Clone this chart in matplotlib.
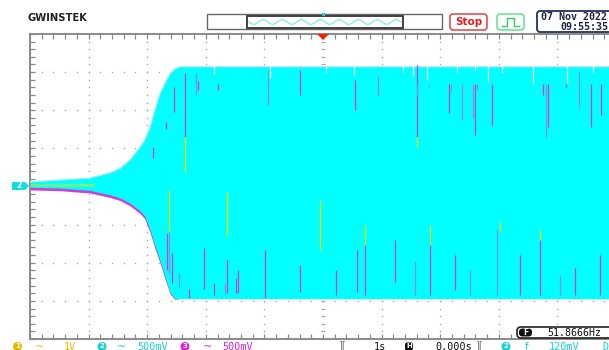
import numpy as np
import matplotlib
matplotlib.use("Agg")
import matplotlib.pyplot as plt
from matplotlib.patches import Rectangle, FancyBboxPatch, Polygon, Circle

# ---- channel 2 envelope (time in s, volts) ----
env_t = [-5.0, -4.49, -3.98, -3.63, -3.46, -3.29, -3.12, -3.04, -2.95,
         -2.87, -2.78, -2.70, -2.61, -2.53, -2.44, 5.0]
env_hi = [0.06, 0.085, 0.11, 0.18, 0.24, 0.35, 0.52, 0.61, 0.78,
          1.00, 1.22, 1.35, 1.48, 1.54, 1.57, 1.57]
env_lo = [-0.01, -0.02, -0.05, -0.11, -0.15, -0.22, -0.32, -0.39, -0.57,
          -0.77, -0.97, -1.17, -1.39, -1.47, -1.47, -1.47]
# channel 3 sits a little below channel 2 during the ramp
ch3_lo_extra = [-0.035, -0.035, -0.035, -0.035, -0.035, -0.035, -0.035, -0.035,
                -0.035, -0.035, -0.035, -0.03, -0.02, -0.01, 0.0, 0.0]
# channel 1 small band around the centre at the start
ch1_t = [-5.0, -4.5, -4.0, -3.9]
ch1_hi = [0.035, 0.035, 0.04, 0.04]
ch1_lo = [0.005, 0.005, 0.005, 0.005]

# dropouts where channel 3 / channel 1 / background show through
# (t, v_top, v_bottom, colour key)
streak_t = [-2.35, -2.35, -2.55, -2.68, -2.16, -2.13, -1.80, -2.90,
            1.60, 1.60, 1.61, 1.81, 2.15, 2.18, 2.37, 2.56, 2.59, 2.59, 2.62, 2.89,
            3.76, 3.81, 3.84, 4.14, 4.37, 4.57, 4.74,
            -2.63, -2.63, -2.66, -2.58, -2.46, -2.29, -2.03, -1.86, -1.67, -1.63,
            -1.63, -1.49, -1.45,
            -0.99, -0.39, -0.05, 0.22, 0.58, 0.72, 0.72, 1.23, 1.57, 1.83, 1.83,
            2.25, 2.51, 2.97, 3.02, 3.36, 3.70, 3.70, 4.04, 4.30, 4.73,
            -0.94, -0.39, 0.55, 0.94,
            1.37, 1.54, 1.77, 2.29, 2.59, 2.81, 3.05, 3.58, 4.16, 4.61,
            -1.86, -0.90, 0.05, 0.53]
streak_top = [1.49, 0.65, 1.30, 0.85, 1.49, 1.39, 1.35, 0.52,
              1.59, 0.65, 1.35, 1.35, 1.35, 1.35, 1.35, 1.35, 1.35, 0.62, 1.35, 1.35,
              1.35, 1.35, 1.35, 1.35, 1.52, 1.35, 1.35,
              -0.05, -0.60, -0.61, -0.87, -1.13, -1.34, -0.81, -1.27, -1.27, -0.97,
              -0.07, -1.20, -1.09,
              -0.83, -1.03, -0.18, -1.10, -0.83, -0.51, -0.77, -0.70, -0.99, -0.51, -0.77,
              -0.90, -1.10, -0.57, -0.47, -0.90, -0.57, -0.70, -1.16, -1.07, -0.90,
              1.53, 1.53, 1.40, 1.46,
              1.60, 1.60, 1.60, 1.60, 1.60, 1.60, 1.60, 1.60, 1.60, 1.60,
              1.60, 1.60, 1.60, 1.60]
streak_bot = [0.65, 0.19, 0.98, 0.76, 1.20, 1.26, 1.26, 0.37,
              0.65, 0.52, 1.20, 1.30, 0.96, 1.24, 0.87, 0.90, 0.68, 0.62, 1.26, 0.81,
              1.20, 0.65, 0.78, 1.30, 1.04, 0.78, 0.94,
              -0.60, -1.14, -1.09, -1.27, -1.32, -1.46, -1.34, -1.42, -1.41, -1.40,
              -0.66, -1.40, -1.40,
              -1.46, -1.38, -0.83, -1.42, -1.38, -0.77, -1.42, -1.25, -1.42, -0.77, -1.42,
              -1.36, -1.42, -1.42, -0.60, -1.42, -0.70, -1.42, -1.42, -1.42, -1.42,
              1.07, 1.20, 1.00, 1.20,
              1.50, 1.45, 1.40, 1.50, 1.52, 1.37, 1.49, 1.36, 1.36, 1.50,
              1.48, 1.42, 1.50, 1.45]
streak_kind = ["m", "y", "m", "m", "l", "m", "m", "m",
               "m", "y", "l", "l", "m", "l", "l", "l", "m", "y", "l", "m",
               "m", "l", "m", "m", "l", "m", "m",
               "y", "l", "m", "m", "l", "m", "m", "m", "l", "m", "y", "m", "m",
               "m", "m", "y", "m", "m", "y", "m", "m", "l", "y", "m",
               "m", "l", "l", "y", "m", "y", "m", "l", "m", "m",
               "l", "m", "m", "l",
               "w", "w", "w", "w", "w", "w", "w", "w", "w", "w",
               "w", "w", "w", "w"]

CYAN = "#00ffff"
MAG = "#d23cd2"
YEL = "#e6e600"
LAV = "#8c8ce6"
GRID = "#a8a8a8"
BORDER = "#8a8a8a"
kind_col = {"m": MAG, "y": YEL, "l": LAV, "w": "#e8fdfd"}

fig = plt.figure(figsize=(6.09, 3.50), dpi=100)
fig.patch.set_facecolor("white")

# ---- scope graticule: 10 x 8 divisions, 1 s/div, 500 mV/div ----
ax = fig.add_axes([30 / 609, 11 / 350, 586 / 609, 305 / 350])
ax.set_xlim(-5, 5)
ax.set_ylim(-2, 2)
ax.set_xticks([])
ax.set_yticks([])
for side in ("left", "top", "bottom"):
    ax.spines[side].set_color(BORDER)
    ax.spines[side].set_linewidth(1.4)
ax.spines["right"].set_visible(False)

sub_x = np.arange(-5, 5.001, 0.2)
sub_y = np.arange(-2, 2.001, 0.1)
for gx in range(-4, 5):
    if gx == 0:
        continue
    ax.plot(np.full_like(sub_y, gx), sub_y, ls="none", marker="s", ms=1.0,
            mfc=GRID, mec="none", zorder=1)
for gy in np.arange(-1.5, 1.51, 0.5):
    if abs(gy) < 1e-9:
        continue
    ax.plot(sub_x, np.full_like(sub_x, gy), ls="none", marker="s", ms=1.0,
            mfc=GRID, mec="none", zorder=1)
# centre cross with short ticks
ax.plot(sub_x, np.zeros_like(sub_x), ls="none", marker="|", ms=3.5, mew=0.9,
        color=GRID, zorder=1)
ax.plot(np.zeros_like(sub_y), sub_y, ls="none", marker="_", ms=3.5, mew=0.9,
        color=GRID, zorder=1)
# border ticks pointing into the screen
ax.plot(sub_x, np.full_like(sub_x, 2.0), ls="none", marker=3, ms=3.5, mew=0.9,
        color=BORDER, zorder=1, clip_on=False)
ax.plot(sub_x, np.full_like(sub_x, -2.0), ls="none", marker=2, ms=3.5, mew=0.9,
        color=BORDER, zorder=1, clip_on=False)
ax.plot(np.full_like(sub_y, -5.0), sub_y, ls="none", marker=1, ms=3.5, mew=0.9,
        color=BORDER, zorder=1, clip_on=False)

# ---- traces ----
ch3_lo = [a + b for a, b in zip(env_lo, ch3_lo_extra)]
ax.fill_between(env_t, env_hi, ch3_lo, color=MAG, lw=0, zorder=2)
ax.fill_between(env_t, env_hi, env_lo, color=CYAN, lw=0, zorder=3)
ax.fill_between(ch1_t, ch1_hi, ch1_lo, color=YEL, lw=0, alpha=0.55, zorder=3.5)
ax.plot(env_t, env_hi, color="#8ff3f3", lw=1.0, zorder=3.2)
for t, a, b, k in zip(streak_t, streak_top, streak_bot, streak_kind):
    ax.plot([t, t], [b, a], color=kind_col[k], lw=0.9, solid_capstyle="butt",
            zorder=4)

# ---- screen furniture (pixel overlay) ----
ov = fig.add_axes([0, 0, 1, 1])
ov.set_xlim(0, 609)
ov.set_ylim(350, 0)
ov.axis("off")
ov.patch.set_alpha(0)

ov.text(28, 18, "GWINSTEK", fontsize=7.2, fontweight="bold", color="#222222",
        va="center", ha="left", family="DejaVu Sans")

# memory bar
ov.add_patch(Rectangle((207, 14), 235, 15, fc="white", ec="#666666", lw=1.0))
ov.add_patch(Rectangle((247, 16), 156, 12, fc="white", ec="#333333", lw=1.3))
wx = np.linspace(249, 401, 300)
ov.plot(wx, 22 + 2.3 * np.sin((wx - 249) / 152 * 2 * np.pi * 8), color="#8ee8ee",
        lw=1.0)
ov.add_patch(Rectangle((322, 13), 3, 3, fc="#19d0d0", ec="none"))

# trigger marker
ov.add_patch(Polygon([[317, 34], [329, 34], [323, 40]], closed=True, fc="#ee2200",
                     ec="none"))

# Stop badge
ov.add_patch(FancyBboxPatch((450, 14), 37, 16, boxstyle="round,pad=0,rounding_size=3",
                            fc="white", ec="#e03030", lw=1.0))
ov.text(468.5, 22, "Stop", fontsize=7.5, fontweight="bold", color="#e02020",
        ha="center", va="center")
# trigger edge badge
ov.add_patch(FancyBboxPatch((497, 14), 27, 16, boxstyle="round,pad=0,rounding_size=3",
                            fc="white", ec="#55dd88", lw=1.0))
ov.plot([502, 507, 507, 514, 514, 519], [26, 26, 18, 18, 26, 26], color="#33cc66",
        lw=1.0)
# date box
ov.add_patch(FancyBboxPatch((537, 11), 80, 21, boxstyle="round,pad=0,rounding_size=3",
                            fc="white", ec="#223355", lw=1.3))
ov.text(541, 16.5, "07 Nov 2022", fontsize=7.2, fontweight="bold", color="#222244",
        family="DejaVu Sans Mono", ha="left", va="center")
ov.text(560, 27, "09:55:35", fontsize=7.2, fontweight="bold", color="#222244",
        family="DejaVu Sans Mono", ha="left", va="center")

# channel 2 ground marker
ov.add_patch(Polygon([[12, 182], [25, 182], [29, 186], [25, 190], [12, 190]], closed=True,
                     fc="#10dede", ec="none"))
ov.text(19, 186, "2", fontsize=5.5, fontweight="bold", color="white", ha="center",
        va="center")

# frequency readout
ov.add_patch(FancyBboxPatch((517, 327), 100, 11, boxstyle="round,pad=0,rounding_size=4",
                            fc="white", ec="#222222", lw=1.2))
ov.add_patch(FancyBboxPatch((519, 328.5), 13, 8, boxstyle="round,pad=0,rounding_size=3.5",
                            fc="#111111", ec="none"))
ov.text(525.5, 332.5, "F", fontsize=5.5, fontweight="bold", color="white",
        ha="center", va="center")
ov.text(547, 332.5, "51.8666Hz", fontsize=7.2, color="#111111",
        family="DejaVu Sans Mono", ha="left", va="center")

# bottom status line
sy = 346.5
MONO = dict(fontsize=7.3, family="DejaVu Sans Mono", ha="left", va="center")


def badge(x, col, label):
    ov.add_patch(Circle((x, sy), 4.5, fc=col, ec="none"))
    ov.text(x, sy, label, fontsize=5, fontweight="bold", color="white",
            ha="center", va="center")


badge(17.5, "#e6b800", "1")
ov.text(39, sy, "~", fontsize=8, color="#e6b800", ha="center", va="center")
ov.text(64, sy, "1V", color="#e6b800", **MONO)
badge(102, "#19d0d0", "2")
ov.text(122, sy, "~", fontsize=8, color="#19d0d0", ha="center", va="center")
ov.text(137, sy, "500mV", color="#19d0d0", **MONO)
badge(185, "#dd22dd", "3")
ov.text(208, sy, "~", fontsize=8, color="#dd22dd", ha="center", va="center")
ov.text(222, sy, "500mV", color="#dd22dd", **MONO)
ov.text(342, sy - 1, "][", fontsize=7, color="#777777", ha="center", va="center")
ov.text(374, sy, "1s", color="#111111", **MONO)
ov.add_patch(FancyBboxPatch((405, 342.5), 8, 8, boxstyle="round,pad=0,rounding_size=2",
                            fc="#111111", ec="none"))
ov.text(409, sy, "H", fontsize=5, fontweight="bold", color="white", ha="center",
        va="center")
ov.text(435, sy, "0.000s", color="#111111", **MONO)
ov.text(479, sy - 1, "][", fontsize=7, color="#777777", ha="center", va="center")
badge(506, "#19d0d0", "2")
ov.text(527, sy, "f", fontsize=7.2, color="#19d0d0", ha="center", va="center")
ov.text(549, sy, "120mV", color="#19d0d0", **MONO)
ov.text(602, sy, "D", color="#19d0d0", **MONO)

fig.savefig("out.png", dpi=100)
